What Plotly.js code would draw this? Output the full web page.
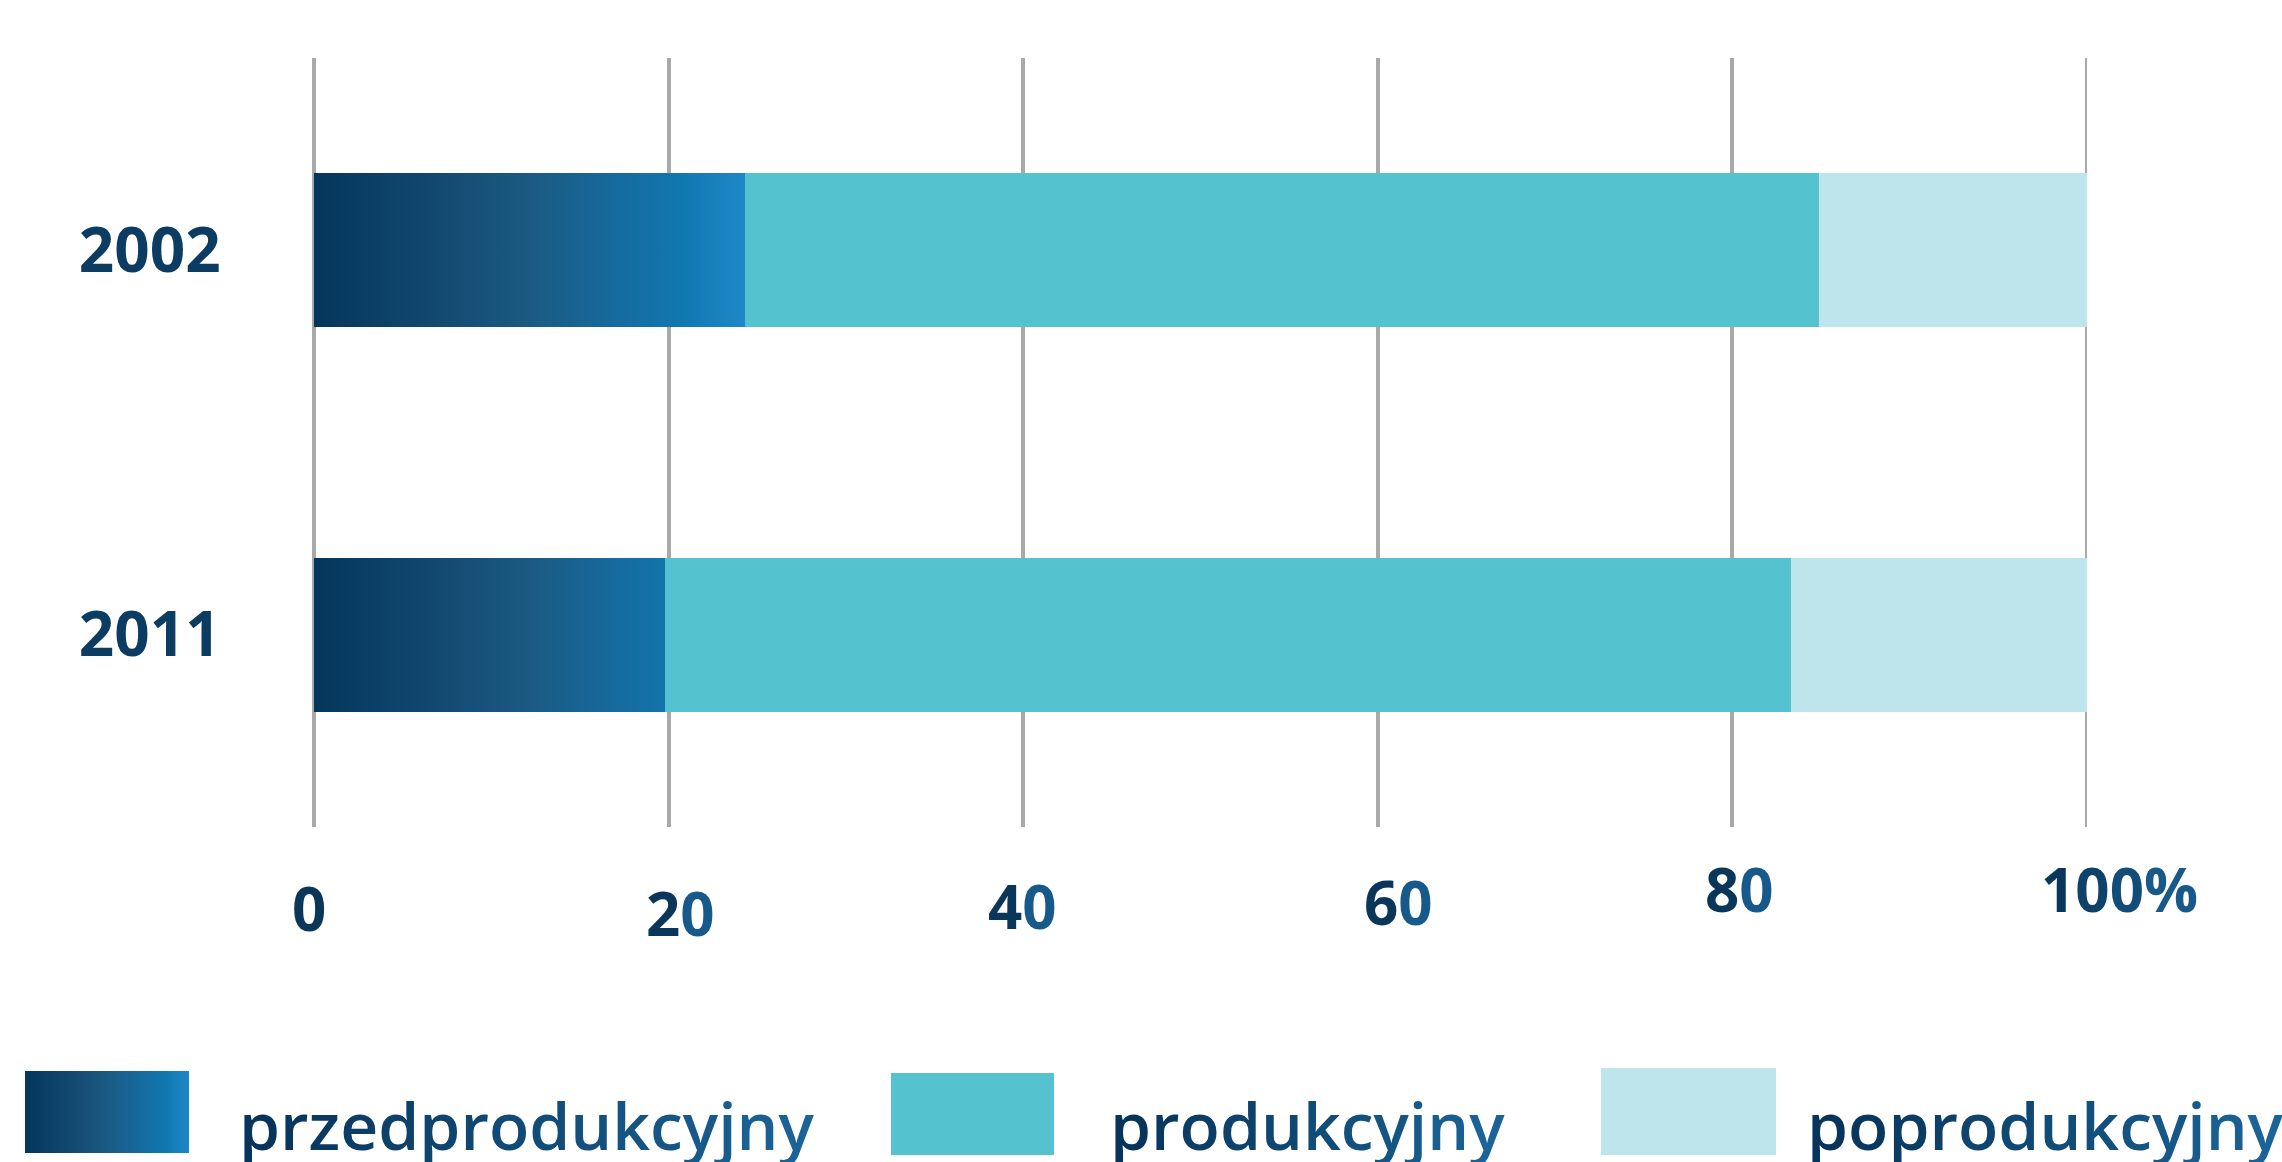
<!DOCTYPE html>
<html>
<head>
<meta charset="utf-8">
<script src="https://cdn.plot.ly/plotly-3.0.1.min.js"></script>
<style>
  html, body { margin: 0; padding: 0; background: #ffffff; }
  #chart { width: 2282px; height: 1162px; }
</style>
</head>
<body>
<div id="chart"></div>
<script>
// ---- data ----
const categories = ['2002', '2011'];
const seriesNames = ['przedprodukcyjny', 'produkcyjny', 'poprodukcyjny'];
const przedprodukcyjny = [24.3, 19.8];
const produkcyjny = [60.6, 63.5];
const poprodukcyjny = [15.1, 16.7];
const xTickVals = [0, 20, 40, 60, 80, 100];
const xTickText = ['0', '20', '40', '60', '80', '100%'];

// ---- styling ----
const W = 2282, H = 1162;
const M = { l: 314, r: 195, t: 58, b: 335 };
const PW = W - M.l - M.r, PH = H - M.t - M.b;
const FONT = '"Open Sans", "Noto Sans", sans-serif';
const TXT = '#0b3a5e';
const colProd = '#55c3cf';
const colPost = '#bee5eb';
const gridCol = '#a9a9ab';

function pxX(px) { return (px - M.l) / PW; }
function pxY(py) { return (M.t + PH - py) / PH; }

function hex2rgb(h) { h = h.replace('#',''); return [0,2,4].map(i => parseInt(h.substr(i,2),16)); }
function rgb2hex(c) { return '#' + c.map(v => Math.round(v).toString(16).padStart(2,'0')).join(''); }
function gradText(str, c1, c2) {
  const a = hex2rgb(c1), b = hex2rgb(c2), n = str.length;
  let out = '';
  for (let i = 0; i < n; i++) {
    const t = n > 1 ? i / (n - 1) : 0;
    const c = rgb2hex(a.map((v, k) => v + (b[k] - v) * t));
    out += '<span style="color:' + c + '">' + str[i] + '</span>';
  }
  return out;
}

const traces = [
  { type: 'bar', orientation: 'h', name: seriesNames[0], y: categories, x: przedprodukcyjny,
    marker: { color: '#16609a', line: { width: 0 } }, hoverinfo: 'x+y+name' },
  { type: 'bar', orientation: 'h', name: seriesNames[1], y: categories, x: produkcyjny,
    marker: { color: colProd, line: { width: 0 } }, hoverinfo: 'x+y+name' },
  { type: 'bar', orientation: 'h', name: seriesNames[2], y: categories, x: poprodukcyjny,
    marker: { color: colPost, line: { width: 0 } }, hoverinfo: 'x+y+name' }
];

// x tick labels as annotations (slightly irregular placement as in reference)
const tickShiftX = [-5, 12, -1, 21, 7, 32];
const tickShiftY = [-81, -86, -79, -75, -62, -62];
const annotations = xTickVals.map((v, i) => ({
  x: v, xref: 'x', y: 0, yref: 'paper',
  xanchor: 'center', yanchor: 'middle',
  xshift: tickShiftX[i], yshift: tickShiftY[i],
  showarrow: false,
  text: gradText(xTickText[i], '#093659', i === 0 ? '#093659' : '#17598a'),
  font: { family: FONT, size: 60, color: TXT, weight: 700 }
}));

// legend (custom, large swatches)
const legendSw = [
  { x0: 25, x1: 189, y0: 1071, y1: 1153, color: '#16609a' },
  { x0: 891, x1: 1054, y0: 1073, y1: 1155, color: colProd },
  { x0: 1601, x1: 1776, y0: 1068, y1: 1155, color: colPost }
];
const legendTx = [237, 1108, 1805];
const shapes = legendSw.map(s => ({
  type: 'rect', xref: 'paper', yref: 'paper',
  x0: pxX(s.x0), x1: pxX(s.x1), y0: pxY(s.y1), y1: pxY(s.y0),
  fillcolor: s.color, line: { width: 0 }, layer: 'above'
}));
// gridline at the right edge of the axis (100%)
shapes.push({
  type: 'line', xref: 'x', yref: 'paper', x0: xTickVals[xTickVals.length - 1], x1: xTickVals[xTickVals.length - 1],
  y0: 0, y1: 1, line: { color: gridCol, width: 4 }, layer: 'below'
});
seriesNames.forEach((n, i) => {
  annotations.push({
    x: pxX(legendTx[i]), xref: 'paper', y: pxY(1124), yref: 'paper',
    xanchor: 'left', yanchor: 'middle', showarrow: false,
    text: gradText(n, '#07345a', '#1b6396'),
    font: { family: FONT, size: 66, color: TXT, weight: 600 }
  });
});

const layout = {
  width: W, height: H,
  margin: { l: M.l, r: M.r, t: M.t, b: M.b, pad: 0 },
  paper_bgcolor: '#ffffff', plot_bgcolor: '#ffffff',
  barmode: 'stack', bargap: 0.6,
  showlegend: false,
  xaxis: {
    range: [0, 100], tickvals: xTickVals, showticklabels: false,
    showgrid: true, gridcolor: gridCol, gridwidth: 4,
    zeroline: true, zerolinecolor: gridCol, zerolinewidth: 4,
    showline: false, ticks: '', fixedrange: true
  },
  yaxis: {
    type: 'category', categoryorder: 'array', categoryarray: categories,
    autorange: 'reversed', showgrid: false, zeroline: false, showline: false,
    ticks: 'outside', ticklen: 80, tickcolor: 'rgba(0,0,0,0)',
    tickfont: { family: FONT, size: 62, color: '#0c3c61', weight: 700 },
    fixedrange: true
  },
  shapes: shapes,
  annotations: annotations,
  font: { family: FONT, color: TXT }
};

const gd = document.getElementById('chart');
Plotly.newPlot(gd, traces, layout, { displayModeBar: false, staticPlot: true }).then(() => {
  const svg = gd.querySelector('svg.main-svg');
  let defs = svg.querySelector('defs');
  if (!defs) { defs = document.createElementNS('http://www.w3.org/2000/svg', 'defs'); svg.insertBefore(defs, svg.firstChild); }
  const stops = [[0, '#04365b'], [0.3, '#134a72'], [0.5, '#1b5a82'], [0.7, '#166a9e'], [0.86, '#1178b0'], [1, '#1e88c8']];
  function mkGrad(id, attrs) {
    const g = document.createElementNS('http://www.w3.org/2000/svg', 'linearGradient');
    g.setAttribute('id', id);
    Object.keys(attrs).forEach(k => g.setAttribute(k, attrs[k]));
    stops.forEach(s => {
      const st = document.createElementNS('http://www.w3.org/2000/svg', 'stop');
      st.setAttribute('offset', s[0]); st.setAttribute('stop-color', s[1]);
      g.appendChild(st);
    });
    defs.appendChild(g);
  }
  // bar gradient in plot user space: from bar start to longest bar end
  const barPaths = gd.querySelectorAll('.barlayer .trace')[0].querySelectorAll('path');
  let minX = Infinity, maxX = -Infinity;
  barPaths.forEach(p => { const b = p.getBBox(); minX = Math.min(minX, b.x); maxX = Math.max(maxX, b.x + b.width); });
  mkGrad('gradBar', { gradientUnits: 'userSpaceOnUse', x1: minX, y1: 0, x2: maxX, y2: 0 });
  barPaths.forEach(p => { p.style.fill = 'url(#gradBar)'; });
  // legend swatch gradient (first shape in the upper shape layer)
  mkGrad('gradSw', { x1: 0, y1: 0, x2: 1, y2: 0 });
  const sh = gd.querySelectorAll('.layer-above .shapelayer path');
  if (sh.length) sh[0].style.fill = 'url(#gradSw)';
});
</script>
</body>
</html>
